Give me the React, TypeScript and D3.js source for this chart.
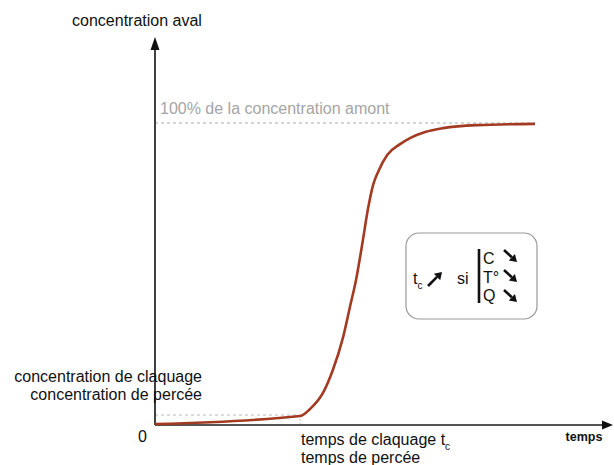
import React from "react";
import * as d3 from "d3";

const timeValues = [0, 38.2, 40.8, 44.2, 46.8, 49.5, 51.3, 52.9, 54.5, 56.1, 57.4, 58.7, 61.1, 64.5, 67.1, 71.1, 75.8, 84.7, 100];
const concValues = [0.3, 3.0, 5.3, 10.6, 18.2, 29.1, 39.1, 48.0, 59.6, 71.9, 79.5, 83.8, 89.4, 93.0, 95.0, 97.0, 98.3, 99.3, 99.7];
const breakthroughTime = 38.2;
const breakthroughConc = 3.3;
const upstreamConc = 100;
const boxFactors = ["C", "T°", "Q"];

const W = 614;
const H = 465;

export default function App() {
  const x = d3.scaleLinear().domain([0, 100]).range([155, 535]);
  const y = d3.scaleLinear().domain([0, 100]).range([425, 123]);
  const line = d3
    .line<number>()
    .x((_, i) => x(timeValues[i]))
    .y((d) => y(d))
    .curve(d3.curveMonotoneX);
  const font = "'Liberation Sans', Arial, Helvetica, sans-serif";

  const arrow = (x1: number, y1: number, x2: number, y2: number, key: string) => {
    const ang = Math.atan2(y2 - y1, x2 - x1);
    const L = 7, Wd = 4.5;
    const bx = x2 - L * Math.cos(ang), by = y2 - L * Math.sin(ang);
    const px = -Math.sin(ang) * Wd, py = Math.cos(ang) * Wd;
    return (
      <g key={key}>
        <line x1={x1} y1={y1} x2={bx} y2={by} stroke="#111" strokeWidth={2.6} />
        <polygon points={`${x2},${y2} ${bx + px},${by + py} ${bx - px},${by - py}`} fill="#111" />
      </g>
    );
  };

  return (
    <svg width={W} height={H} style={{ position: "absolute", left: 0, top: 0 }} fontFamily={font}>
      <rect width={W} height={H} fill="#fff" />
      {/* 100% dashed */}
      <line x1={x(0)} x2={x(100)} y1={y(upstreamConc)} y2={y(upstreamConc)} stroke="#aaa" strokeDasharray="3,3" strokeWidth={1} />
      <text x={160} y={114} fontSize={16} fill="#a5a5a5">100% de la concentration amont</text>
      {/* breakthrough dashed */}
      <line x1={x(0)} x2={x(breakthroughTime)} y1={y(breakthroughConc)} y2={y(breakthroughConc)} stroke="#bbb" strokeDasharray="3,3" strokeWidth={1} />
      <line x1={x(breakthroughTime)} x2={x(breakthroughTime)} y1={y(breakthroughConc)} y2={y(0)} stroke="#bbb" strokeDasharray="2,2" strokeWidth={1} />
      {/* axes */}
      <line x1={155} y1={425} x2={604} y2={425} stroke="#555" strokeWidth={2} />
      <polygon points="613,425 602,420.5 602,429.5" fill="#111" />
      <line x1={155} y1={425} x2={155} y2={48} stroke="#111" strokeWidth={1.6} />
      <polygon points="155,37 150.5,50 159.5,50" fill="#111" />
      {/* curve */}
      <path d={line(concValues) || ""} fill="none" stroke="#a33a22" strokeWidth={2.6} />
      {/* texts */}
      <text x={137} y={26} fontSize={16} textAnchor="middle" fill="#111">concentration aval</text>
      <text x={202} y={382} fontSize={16} textAnchor="end" fill="#111">concentration de claquage</text>
      <text x={202} y={400} fontSize={16} textAnchor="end" fill="#111">concentration de percée</text>
      <text x={147} y={442} fontSize={16} textAnchor="end" fill="#111">0</text>
      <text x={301} y={445} fontSize={16} fill="#111">temps de claquage t<tspan fontSize={10} dy={5}>c</tspan></text>
      <text x={301} y={463} fontSize={16} fill="#111">temps de percée</text>
      <text x={584} y={441} fontSize={12.5} fontWeight="bold" textAnchor="middle" fill="#111">temps</text>
      {/* box */}
      <rect x={406} y={233} width={131} height={86} rx={13} fill="#fff" stroke="#999" strokeWidth={1.2} />
      <text x={413} y={284} fontSize={16} fill="#111">t<tspan fontSize={10} dy={5}>c</tspan></text>
      {arrow(428, 286, 442, 272, "up")}
      <text x={457} y={284} fontSize={16} fill="#111">si</text>
      <line x1={479} x2={479} y1={249} y2={303} stroke="#111" strokeWidth={2.6} />
      {boxFactors.map((f, i) => (
        <text key={f} x={483} y={264 + i * 18.5} fontSize={16} fill="#111">{f}</text>
      ))}
      {boxFactors.map((f, i) => arrow(504, 250 + i * 20, 517, 262 + i * 20, "a" + i))}
    </svg>
  );
}
